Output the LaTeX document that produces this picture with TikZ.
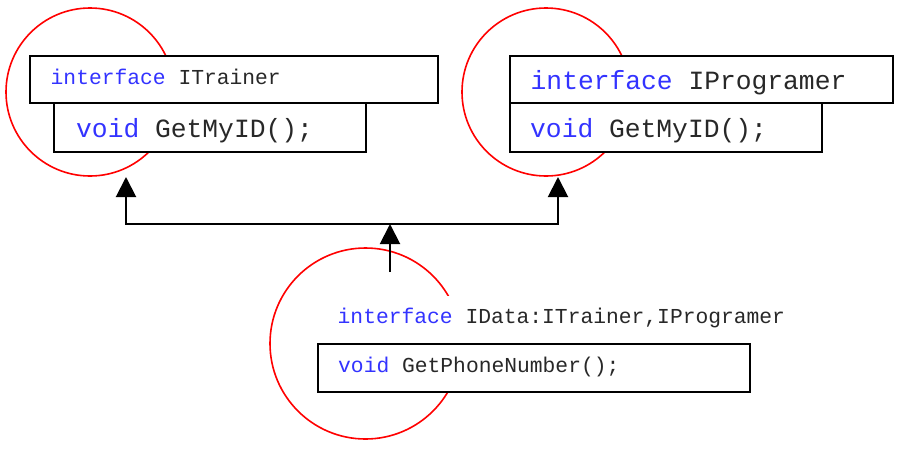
\documentclass[tikz,border=0pt]{standalone}
\usepackage{fontspec}
\setmonofont{Liberation Mono}
\usetikzlibrary{arrows.meta}
\definecolor{kwblue}{RGB}{51,51,255}
\definecolor{codegray}{RGB}{40,40,40}
\tikzset{
  ring/.style={draw=red, line width=1.6pt, circle, inner sep=0pt, minimum size=168pt},
  box/.style={draw=black, fill=white, line width=1.8pt, rectangle, inner sep=0pt},
  blank/.style={fill=white, rectangle, inner sep=0pt},
  codesmall/.style={anchor=base west, inner sep=0pt, text=codegray, font=\ttfamily\fontsize{21.3pt}{24pt}\selectfont},
  codelarge/.style={anchor=base west, inner sep=0pt, text=codegray, font=\ttfamily\fontsize{26.3pt}{30pt}\selectfont},
  link/.style={draw=black, line width=2pt},
  linkarrow/.style={link, -{Triangle[width=20pt,length=20pt]}}
}
\newcommand{\kw}[1]{\textcolor{kwblue}{#1}}
\begin{document}
\begin{tikzpicture}[x=1pt,y=-1pt]
  \useasboundingbox (0,0) rectangle (898,451);

  % red circles behind the interface boxes
  \node[ring] (c1) at (90,92) {};
  \node[ring] (c2) at (546,92) {};
  \node[ring, minimum size=191pt] (c3) at (365.5,343.5) {};

  % interface ITrainer
  \node[box, minimum width=408pt, minimum height=47pt] (t1) at (234,79.5) {};
  \node[box, minimum width=312pt, minimum height=49pt] (t2) at (210,127.5) {};
  \node[codesmall] (t1text) at (50.5,84) {\kw{interface} ITrainer};
  \node[codelarge] (t2text) at (76,137) {\kw{void} GetMyID();};

  % interface IProgramer
  \node[box, minimum width=383pt, minimum height=47pt] (p1) at (701.5,79.5) {};
  \node[box, minimum width=312pt, minimum height=49pt] (p2) at (666,127.5) {};
  \node[codelarge] (p1text) at (530.5,89) {\kw{interface} IProgramer};
  \node[codelarge] (p2text) at (530,137) {\kw{void} GetMyID();};

  % interface IData
  \node[blank, minimum width=472pt, minimum height=48pt] (d1) at (554,320) {};
  \node[box, minimum width=432pt, minimum height=48pt] (d2) at (534,368) {};
  \node[codesmall] (d1text) at (337.5,323) {\kw{interface} IData:ITrainer,IProgramer};
  \node[codesmall] (d2text) at (338,372) {\kw{void} GetPhoneNumber();};

  % inheritance connectors
  \coordinate (tA) at (126,177);
  \coordinate (tB) at (558,177);
  \coordinate (jn) at (390,224);
  \coordinate (dTop) at (390,272);
  \draw[linkarrow] (jn) -| (tA);
  \draw[linkarrow] (jn) -| (tB);
  \draw[linkarrow] (dTop) -- (jn);
\end{tikzpicture}
\end{document}
